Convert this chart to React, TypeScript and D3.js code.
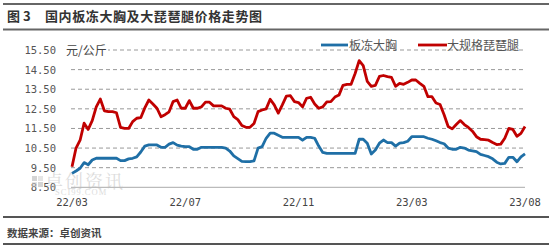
import React from "react";
import * as d3 from "d3";

const xTickLabels = ["22/03", "22/07", "22/11", "23/03", "23/08"];
const xTickIndex = [0, 28, 56, 84, 112];
const yTicks = [8.5, 9.5, 10.5, 11.5, 12.5, 13.5, 14.5, 15.5];

const seriesNames = ["板冻大胸", "大规格琵琶腿"];

const breast = [
  9.21, 9.33, 9.47, 9.76, 9.65, 9.89, 9.98, 9.98, 9.98, 9.98,
  9.98, 9.98, 9.86, 9.86, 9.95, 9.98, 10.05, 10.3, 10.6, 10.66,
  10.66, 10.66, 10.54, 10.54, 10.7, 10.78, 10.65, 10.6, 10.57, 10.57,
  10.44, 10.44, 10.54, 10.54, 10.54, 10.54, 10.54, 10.54, 10.5, 10.35,
  10.1, 9.96, 9.82, 9.81, 9.81, 9.85, 10.5, 10.57, 11.0, 11.26,
  11.26, 11.15, 11.05, 11.05, 11.05, 11.05, 11.05, 10.9, 11.05, 11.05,
  11.0, 10.6, 10.28, 10.23, 10.23, 10.23, 10.23, 10.23, 10.23, 10.23,
  10.23, 10.95, 10.95, 10.75, 10.2, 10.4, 10.75, 10.91, 10.78, 10.78,
  10.6, 10.75, 10.78, 10.85, 11.08, 11.08, 11.08, 11.08, 11.0, 10.95,
  10.87, 10.78, 10.72, 10.5, 10.44, 10.44, 10.54, 10.5, 10.4, 10.36,
  10.32, 10.18, 10.12, 10.06, 9.95, 9.78, 9.69, 9.72, 10.03, 10.03,
  9.8, 10.05, 10.2,
];

const drumstick = [
  9.55, 10.5, 10.9, 11.77, 11.45, 11.9, 12.6, 13.0, 12.4, 12.36,
  12.36, 12.3, 11.55, 11.5, 11.5, 11.85, 12.02, 12.05, 12.55, 12.95,
  12.75, 12.53, 12.1, 12.2, 12.35, 12.87, 12.95, 12.53, 12.53, 12.92,
  12.53, 12.53, 12.6, 12.84, 12.84, 12.65, 12.65, 12.65, 12.53, 12.48,
  12.1, 11.95, 11.65, 11.56, 11.56, 11.75, 12.36, 12.44, 12.5, 12.99,
  12.7, 12.28, 12.7, 13.15, 13.17, 12.87, 12.82, 12.6, 13.04, 13.09,
  12.75, 12.53, 12.6, 12.85, 12.87, 13.1, 13.2, 13.7, 13.75, 13.75,
  14.3, 14.96, 14.7, 13.9, 13.65, 13.7, 14.15, 14.2, 14.14, 14.1,
  13.65, 13.8, 13.75, 13.85, 13.97, 13.97, 13.8, 13.65, 13.12, 13.12,
  12.8, 12.72, 12.2, 11.6, 11.48, 11.7, 11.9, 11.7, 11.55, 11.36,
  11.08, 10.95, 10.93, 10.9, 10.78, 10.68, 10.7, 11.0, 11.5, 11.45,
  11.1, 11.25, 11.6,
];

const W = 554;
const H = 247;
const left = 72;
const right = 525;
const top = 50;
const bottom = 187.3;

export default function App() {
  const idx = d3.range(breast.length);
  const x = d3.scalePoint<number>().domain(idx).range([left, right]);
  const y = d3.scaleLinear().domain([8.5, 15.5]).range([bottom, top]);
  const line = d3
    .line<number>()
    .x((_, i) => x(i) as number)
    .y((d) => y(d));

  const colors = ["#1F6FA6", "#C00000"];
  const mono = "'DejaVu Sans Mono', monospace";
  const cjk = "'Noto Sans CJK SC', sans-serif";

  return (
    <svg
      width={W}
      height={H}
      style={{ position: "absolute", left: 0, top: 0, background: "#fff" }}
    >
      <rect x={0} y={0} width={W} height={H} fill="#fff" />
      {/* header rules */}
      <line x1={3} x2={549} y1={4} y2={4} stroke="#666" strokeWidth={2} />
      <text x={7} y={21} fontFamily={cjk} fontWeight="bold" fontSize={13} fill="#333">
        图 3
      </text>
      <text
        x={45}
        y={21}
        fontFamily={cjk}
        fontWeight="bold"
        fontSize={13}
        letterSpacing={0.6}
        fill="#333"
      >
        国内板冻大胸及大琵琶腿价格走势图
      </text>
      <line x1={3} x2={549} y1={29.5} y2={29.5} stroke="#666" strokeWidth={2} />

      {/* grid */}
      {yTicks.slice(1).map((t) => (
        <line
          key={t}
          x1={left - 1}
          x2={right}
          y1={y(t)}
          y2={y(t)}
          stroke="#999"
          strokeWidth={1}
          strokeDasharray="4,3"
        />
      ))}
      <line x1={left - 1} x2={right} y1={bottom} y2={bottom} stroke="#aaa" strokeWidth={1} />

      {/* y tick labels */}
      {yTicks.map((t) => (
        <text
          key={t}
          x={56}
          y={y(t) + 4}
          textAnchor="end"
          fontFamily={mono}
          fontSize={10.5}
          fill="#555"
        >
          {t.toFixed(2)}
        </text>
      ))}

      {/* unit */}
      <rect x={64} y={43} width={44} height={15} fill="#fff" />
      <text x={66} y={55} fontFamily={cjk} fontSize={12} fill="#444">
        元/公斤
      </text>

      {/* x tick labels */}
      {xTickIndex.map((k, j) => (
        <text
          key={k}
          x={x(k) as number}
          y={206}
          textAnchor="middle"
          fontFamily={mono}
          fontSize={10.5}
          fill="#444"
        >
          {xTickLabels[j]}
        </text>
      ))}

      {/* watermark */}
      <g opacity={0.5}>
        <rect x={32} y={176} width={5} height={5} fill="#aaa" />
        <rect x={38} y={176} width={5} height={5} fill="#ccc" />
        <rect x={32} y={182} width={5} height={5} fill="#ccc" />
        <rect x={38} y={182} width={5} height={5} fill="#aaa" />
        <text x={45} y={188} fontFamily="'Noto Serif CJK SC', 'Noto Sans CJK SC', serif" fontSize={18} letterSpacing={2} fill="#bbb">
          卓创资讯
        </text>
        <text x={55} y={195} fontFamily="'Liberation Serif', serif" fontSize={8.5} letterSpacing={1} fill="#bbb">
          SCI99.COM
        </text>
      </g>

      {/* series */}
      <path d={line(breast) ?? ""} fill="none" stroke={colors[0]} strokeWidth={2.8} strokeLinejoin="round" />
      <path d={line(drumstick) ?? ""} fill="none" stroke={colors[1]} strokeWidth={2.8} strokeLinejoin="round" />

      {/* legend */}
      <line x1={321} x2={348} y1={45} y2={45} stroke={colors[0]} strokeWidth={2.8} />
      <text x={349} y={49.5} fontFamily={cjk} fontSize={12} fill="#555">
        {seriesNames[0]}
      </text>
      <line x1={418} x2={447} y1={45} y2={45} stroke={colors[1]} strokeWidth={2.8} />
      <text x={447} y={49.5} fontFamily={cjk} fontSize={12} fill="#555">
        {seriesNames[1]}
      </text>

      {/* footer */}
      <line x1={3} x2={549} y1={217} y2={217} stroke="#555" strokeWidth={2} />
      <text x={7} y={237} fontFamily={cjk} fontWeight="bold" fontSize={10.5} fill="#444">
        数据来源：卓创资讯
      </text>
      <line x1={3} x2={549} y1={244} y2={244} stroke="#555" strokeWidth={2} />
    </svg>
  );
}
